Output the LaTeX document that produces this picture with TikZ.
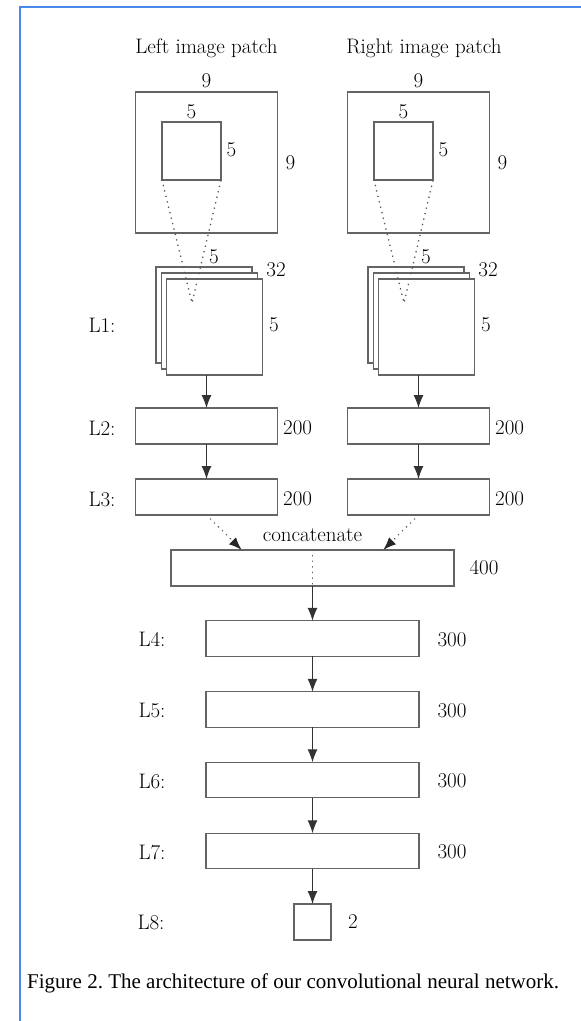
\documentclass[tikz,border=0pt]{standalone}
\usepackage{fontspec}
\usepackage{tikz}
\usetikzlibrary{arrows.meta,positioning,calc}
\newfontfamily\capfont{Liberation Serif}
\definecolor{frameblue}{RGB}{74,137,235}
\definecolor{boxgray}{RGB}{100,100,100}
\newcommand{\figfont}{\fontsize{21}{25}\selectfont}
\frenchspacing
\tikzset{
  layer/.style={draw=boxgray, line width=1.1pt, fill=white, inner sep=0pt, outer sep=0pt},
  fmap/.style={layer, minimum width=96pt, minimum height=96pt},
  dim/.style={inner sep=0pt, font=\figfont},
  arr/.style={-{Latex[length=13pt,width=10pt]}, line width=1pt, black!80},
  proj/.style={draw=black!65, line width=1.7pt, line cap=round, dash pattern=on 0.1pt off 5.5pt},
  projarr/.style={proj, -{Latex[length=13pt,width=10pt,black!85]}},
}

\begin{document}
\begin{tikzpicture}[x=1pt,y=-1pt,font=\figfont]
  \useasboundingbox (0,0) rectangle (581,1021);
  \draw[frameblue, line width=1.5pt] (581,7) -- (20,7) -- (20,1021);

  \foreach \s/\x/\t/\tx in {L/206.5/Left/206.5, R/418.5/Right/424} {
    \node[dim] (title\s) at (\tx,48) {\t\ image patch};
    \node[layer, minimum width=142pt, minimum height=141pt] (outer\s) at (\x,162.5) {};
    \node[layer, minimum width=59pt, minimum height=58pt] (inner\s) at (\x-15,151) {};
    \node[dim] (outw\s) at (\x,81) {9};
    \node[dim] (outh\s) at (\x+84,163) {9};
    \node[dim] (inw\s) at (\x-15,112) {5};
    \node[dim] (inh\s) at (\x+25,150) {5};
    \foreach \k in {0,1,2}
      \node[fmap] (fm\s\k) at (\x-2.5+5.3*\k, 315+6*\k) {};
    \coordinate (apex\s) at (\x-14.5,303);
    \draw[proj] (inner\s.south west) -- (apex\s) -- (inner\s.south east);
    \node[dim] (kw\s) at (\x+7.5,257) {5};
    \node[dim] (kn\s) at (\x+69.5,270) {32};
    \node[dim] (kh\s) at (\x+67.5,325) {5};
    \node[layer, minimum width=142pt, minimum height=36pt] (L2\s) at (\x,426) {};
    \node[layer, minimum width=142pt, minimum height=36pt] (L3\s) at (\x,497) {};
    \node[dim, anchor=west] (n2\s) at (\x+76.5,428) {200};
    \node[dim, anchor=west] (n3\s) at (\x+76.5,499) {200};
    \draw[arr] (L2\s.north |- fm\s2.south) -- (L2\s.north);
    \draw[arr] (L2\s) -- (L3\s);
  }
  \node[dim] (lab1) at (102,325) {L1:};
  \node[dim] (lab2) at (102,428) {L2:};
  \node[dim] (lab3) at (102,499) {L3:};

  \node[layer, minimum width=283pt, minimum height=36pt] (cat) at (312.5,568) {};
  \node[dim] (catlab) at (312.5,535) {concatenate};
  \node[dim] (ncat) at (484,568) {400};
  \draw[proj] (cat.north) -- (cat.south);
  \draw[projarr] (L3L.south) -- ($(cat.north west)!0.25!(cat.north east)$);
  \draw[projarr] (L3R.south) -- ($(cat.north west)!0.75!(cat.north east)$);

  \foreach \n/\y in {4/638.5, 5/709.5, 6/780, 7/851} {
    \node[layer, minimum width=213pt, minimum height=35.5pt] (L\n) at (312.5,\y) {};
    \node[dim] (lab\n) at (152,\y+1) {L\n:};
    \node[dim] (n\n) at (452,\y+1) {300};
  }
  \node[layer, minimum width=37pt, minimum height=36pt] (L8) at (312.5,922) {};
  \node[dim] (lab8) at (151,922) {L8:};
  \node[dim] (n8) at (353,922) {2};

  \draw[arr] (cat) -- (L4);
  \draw[arr] (L4) -- (L5);
  \draw[arr] (L5) -- (L6);
  \draw[arr] (L6) -- (L7);
  \draw[arr] (L7) -- (L8);

  \node[anchor=west, inner sep=0pt, font=\capfont\fontsize{21}{25}\selectfont] (caption) at (27,983)
    {Figure 2. The architecture of our convolutional neural network.};
\end{tikzpicture}
\end{document}
